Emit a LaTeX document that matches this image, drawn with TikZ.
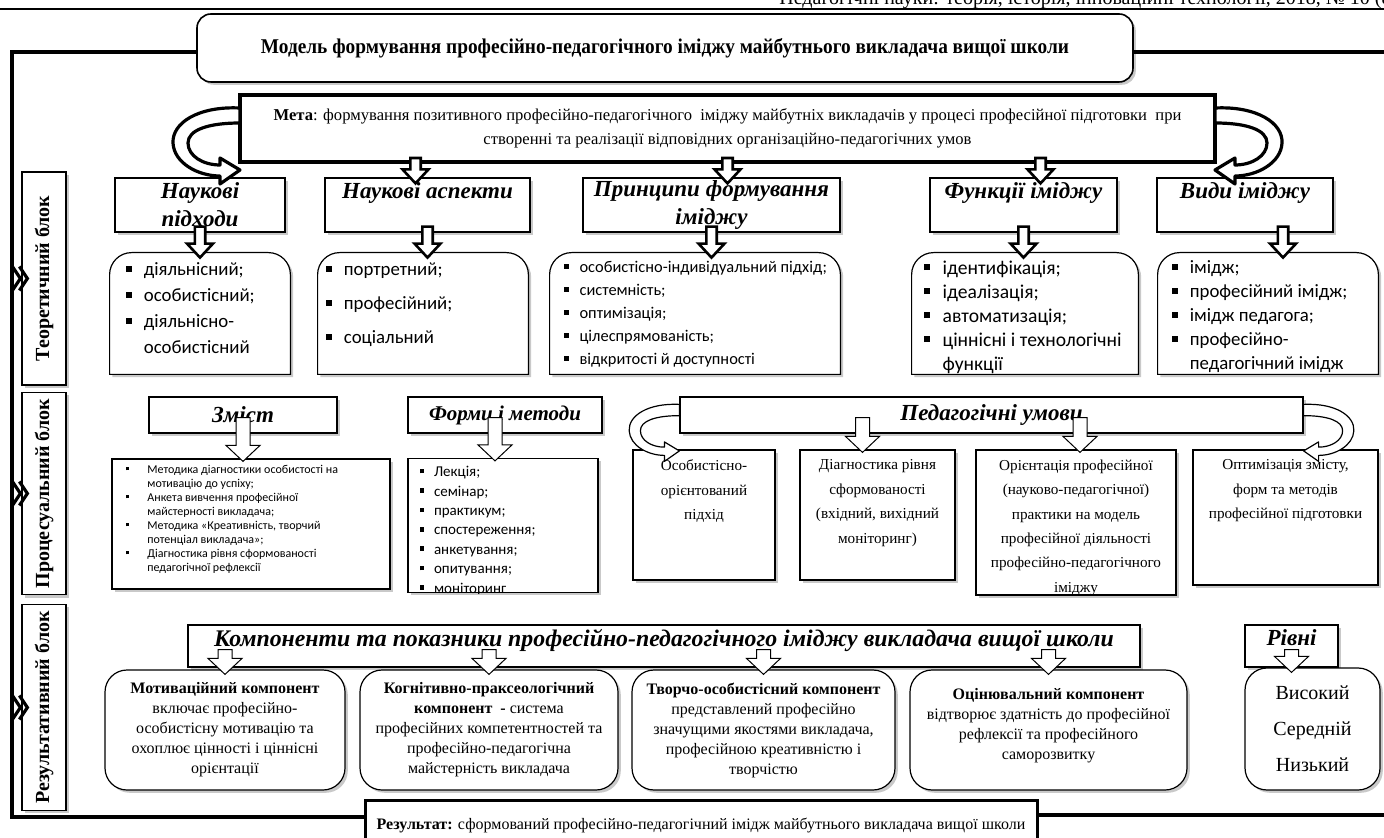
\documentclass[tikz,border=0pt]{standalone}
\usepackage{fontspec}
\setmainfont{Liberation Serif}
\newfontfamily\titlefont[FakeStretch=0.92]{Liberation Serif}
\newfontfamily\calib{Carlito}
\usetikzlibrary{calc,positioning,shadows}

\newcommand{\itm}[1][0.95em]{\makebox[#1][l]{\raisebox{0.22em}{\rule{0.3em}{0.3em}}}}
\newcommand{\roundtop}[1]{%
  \draw[listframe] (#1.south west) -- ([yshift=-11pt]#1.north west)
    arc[start angle=180,end angle=90,radius=11pt] -- ([xshift=-11pt]#1.north east)
    arc[start angle=90,end angle=0,radius=11pt] -- (#1.south east) -- cycle;}

\tikzset{
    shade/.style={drop shadow={shadow xshift=1.4pt,shadow yshift=-1.4pt,opacity=0.3,fill=black!70}},
    titlebox/.style={rectangle,rounded corners=7pt,draw=black,line width=0.8pt,fill=white,shade,font=\titlefont\bfseries\fontsize{10.5}{12}\selectfont},
    metabox/.style={rectangle,draw=black,line width=2pt,fill=white,align=center,font=\fontsize{8.3}{12}\selectfont},
    headbox/.style={rectangle,draw=black,line width=0.6pt,fill=white,shade,inner sep=0pt,align=center,font=\bfseries\itshape\fontsize{11.5}{14}\selectfont},
    onehead/.style={headbox,text depth=14pt},
    sidebox/.style={rectangle,draw=black,line width=0.6pt,fill=white,shade,rotate=90,font=\bfseries\fontsize{10}{12}\selectfont},
    listbox/.style={rectangle,draw=none,inner sep=0pt},
    listframe/.style={draw=black,line width=0.6pt,fill=white,shade},
    listtext/.style={align=left,inner sep=0pt,font=\calib\fontsize{9.4}{12}\selectfont},
    plainbox/.style={rectangle,draw=black,line width=0.6pt,fill=white,shade,inner sep=0pt},
    condtext/.style={align=center,inner sep=0pt,font=\fontsize{7.6}{12.2}\selectfont},
    compbox/.style={rectangle,rounded corners=11pt,draw=black,line width=0.6pt,fill=white,shade,align=center,inner sep=0pt,font=\fontsize{8}{10}\selectfont},
    resbox/.style={rectangle,draw=black,line width=1.5pt,fill=white,font=\fontsize{8}{10}\selectfont},
    frame/.style={draw=black,line width=1.8pt},
    chev/.style={draw=black,line width=1.6pt,line join=miter},
    blockarrow/.style n args={3}{to path={let \p1=(\tikztostart),\p2=(\tikztotarget) in
      (\x1-#1,\y1) -- (\x1+#1,\y1) -- (\x1+#1,\y2+#3) -- (\x1+#2,\y2+#3) -- (\x1,\y2)
      -- (\x1-#2,\y2+#3) -- (\x1-#1,\y2+#3) -- cycle}},
    bigarrow/.style={blockarrow={2.6pt}{6.5pt}{7pt},draw=black,fill=white,line width=1.3pt,line join=miter},
    smallarrow/.style={blockarrow={3.5pt}{8.5pt}{8pt},draw=black,fill=white,line width=0.5pt},
    pics/curl/.style={code={
      \draw[fill=white,line join=round] (0,0) .. controls (-42,-2) and (-68,15) .. (-67,35)
        .. controls (-66,55) and (-42,68) .. (-20,68) -- (-20,76) -- (0,62) -- (-20,50) -- (-20,57)
        .. controls (-37,57) and (-52,48) .. (-52,35) .. controls (-52,22) and (-32,15) .. (0,15) -- cycle;
    }},
}

\begin{document}
\begin{tikzpicture}[x=0.5pt,y=-0.5pt]
\useasboundingbox (0,0) rectangle (1384,838);

% page header
\draw[line width=0.6pt] (0,9) -- (1384,9);
\node[anchor=base east,inner sep=0pt,font=\fontsize{10}{12}\selectfont] (hdr) at (1392,4.5) {Педагогічні науки: теорія, історія, інноваційні технології, 2018, № 10 (8};

% title and goal
\node[titlebox,minimum width=468pt,minimum height=34pt] (title) at (665,48) {Модель формування професійно-педагогічного іміджу майбутнього викладача вищої школи\\[3pt]};
\node[metabox,minimum width=487.5pt,minimum height=33.5pt] (meta) at (727.5,128.5) {\textbf{Мета}: формування позитивного професійно-педагогічного\ \ іміджу майбутніх викладачів у процесі професійної підготовки\ \ при\\створенні та реалізації відповідних організаційно-педагогічних умов};

% side blocks
\node[sidebox,minimum width=106.5pt,minimum height=22pt] (s1) at (44,278.5) {Теоретичний блок};
\node[sidebox,minimum width=96.5pt,minimum height=22pt] (s2) at (44,493.5) {Процесуальний блок};
\node[sidebox,minimum width=102.5pt,minimum height=22pt] (s3) at (44,707.5) {Результативний блок};

% theoretical block
\node[headbox,minimum width=85pt,minimum height=27pt] (h1) at (200,205) {Наукові\\підходи};
\node[onehead,minimum width=102.5pt,minimum height=27pt] (h2) at (427.5,205) {Наукові аспекти};
\node[headbox,minimum width=128.5pt,minimum height=27pt] (h3) at (711.5,205) {Принципи формування\\іміджу};
\node[onehead,minimum width=93.5pt,minimum height=27pt] (h4) at (1023.5,205) {Функції іміджу};
\node[onehead,minimum width=88pt,minimum height=27pt] (h5) at (1245,205) {Види іміджу};

\node[listbox,minimum width=90pt,minimum height=60.5pt] (l1) at (200,313.5) {};
\node[listbox,minimum width=105pt,minimum height=60.5pt] (l2) at (423,313.5) {};
\node[listbox,minimum width=145pt,minimum height=60.5pt] (l3) at (695,313.5) {};
\node[listbox,minimum width=113pt,minimum height=60.5pt] (l4) at (1025,313.5) {};
\node[listbox,minimum width=110pt,minimum height=60.5pt] (l5) at (1268,313.5) {};
\roundtop{l1} \roundtop{l2} \roundtop{l3} \roundtop{l4} \roundtop{l5}
\node[listtext,font=\calib\fontsize{9.4}{13}\selectfont,below right=5pt and 8pt of l1.north west] (t1) {\itm діяльнісний;\\\itm особистісний;\\\itm діяльнісно-\\\hspace{0.95em}особистісний};
\node[listtext,font=\calib\fontsize{9.4}{17}\selectfont,below right=5pt and 4pt of l2.north west] (t2) {\itm портретний;\\\itm професійний;\\\itm соціальний};
\node[listtext,font=\calib\fontsize{8.2}{11.5}\selectfont,below right=4pt and 7pt of l3.north west] (t3) {\itm особистісно-індивідуальний підхід;\\\itm системність;\\\itm оптимізація;\\\itm цілеспрямованість;\\\itm відкритості й доступності};
\node[listtext,font=\calib\fontsize{9.8}{12}\selectfont,below right=4pt and 6pt of l4.north west] (t4) {\itm ідентифікація;\\\itm ідеалізація;\\\itm автоматизація;\\\itm ціннісні і технологічні\\\hspace{0.95em}функції};
\node[listtext,below right=4pt and 7pt of l5.north west] (t5) {\itm імідж;\\\itm професійний імідж;\\\itm імідж педагога;\\\itm професійно-\\\hspace{0.95em}педагогічний імідж};

% procedural block
\node[headbox,minimum width=94pt,minimum height=18pt] (zh) at (243,415) {Зміст};
\node[headbox,minimum width=97pt,minimum height=18pt,font=\bfseries\itshape\fontsize{10.5}{12}\selectfont] (fh) at (505,415) {Форми і методи};
\node[headbox,minimum width=311.5pt,minimum height=18pt] (pu) at (991.5,415) {Педагогічні умови};

\node[plainbox,minimum width=139pt,minimum height=65pt] (zc) at (251,524) {};
\node[listtext,font=\calib\fontsize{6}{7}\selectfont,below right=3pt and 7pt of zc.north west] (tz) {\itm[1.8em]Методика діагностики особистості на\\\hspace{1.8em}мотивацію до успіху;\\\itm[1.8em]Анкета вивчення професійної\\\hspace{1.8em}майстерності викладача;\\\itm[1.8em]Методика «Креативність, творчий\\\hspace{1.8em}потенціал викладача»;\\\itm[1.8em]Діагностика рівня сформованості\\\hspace{1.8em}педагогічної рефлексії};
\node[plainbox,minimum width=95pt,minimum height=67pt] (fc) at (503,525.5) {};
\begin{scope}
  \clip (fc.south west) rectangle (fc.north east);
  \node[listtext,font=\calib\fontsize{7.5}{9.7}\selectfont,below right=4pt and 6pt of fc.north west] (tf) {\itm Лекція;\\\itm семінар;\\\itm практикум;\\\itm спостереження;\\\itm анкетування;\\\itm опитування;\\\itm моніторинг};
\end{scope}

\node[plainbox,minimum width=71pt,minimum height=65pt] (pa) at (704,515) {};
\node[plainbox,minimum width=77.5pt,minimum height=65pt] (pb) at (877.5,515) {};
\node[plainbox,minimum width=100pt,minimum height=72.5pt] (pc) at (1076,522.5) {};
\node[plainbox,minimum width=92.5pt,minimum height=67.5pt] (pd) at (1285.5,517.5) {};
\node[condtext,below=5pt of pa.north] (ta) {Особистісно-\\орієнтований\\підхід};
\node[condtext,below=5pt of pb.north] (tb) {Діагностика рівня\\сформованості\\(вхідний, вихідний\\моніторинг)};
\node[condtext,below=5pt of pc.north] (tc) {Орієнтація професійної\\(науково-педагогічної)\\практики на модель\\професійної діяльності\\професійно-педагогічного\\іміджу};
\node[condtext,below=5pt of pd.north] (td) {Оптимізація змісту,\\форм та методів\\професійної підготовки};

% resulting block
\node[headbox,minimum width=476pt,minimum height=21pt,text depth=8pt,font=\bfseries\itshape\fontsize{11.9}{14}\selectfont] (kh) at (664,646) {Компоненти та показники професійно-педагогічного іміджу викладача вищої школи};
\node[headbox,minimum width=46.5pt,minimum height=21pt,text depth=8pt] (rh) at (1291.5,646) {Рівні};

\node[compbox,minimum width=120pt,minimum height=60pt] (ka) at (225,730) {\textbf{Мотиваційний компонент}\\включає професійно-\\особистісну мотивацію та\\охоплює цінності і ціннісні\\орієнтації};
\node[compbox,minimum width=129pt,minimum height=60pt] (kb) at (489,730) {\textbf{Когнітивно-праксеологічний}\\\textbf{компонент\ \ -} система\\професійних компетентностей та\\професійно-педагогічна\\майстерність викладача};
\node[compbox,minimum width=131.5pt,minimum height=60pt] (kc) at (763.5,730) {\textbf{Творчо-особистісний компонент}\\представлений професійно\\значущими якостями викладача,\\професійною креативністю і\\творчістю};
\node[compbox,minimum width=138.5pt,minimum height=60pt] (kd) at (1048.5,730) {\textbf{Оцінювальний компонент}\\відтворює здатність до професійної\\рефлексії та професійного\\саморозвитку\\[-4pt]\mbox{}};
\node[compbox,minimum width=67.5pt,minimum height=61pt,font=\fontsize{10}{18}\selectfont] (rl) at (1312.5,729) {Високий\\Середній\\Низький};

\node[resbox,minimum width=336pt,minimum height=25pt] (result) at (701,825) {\textbf{Результат:} сформований професійно-педагогічний імідж майбутнього викладача вищої школи};

% frame lines
\coordinate (fl) at (12,817);
\coordinate (fr1) at (1384,52);
\coordinate (fr2) at (1384,815);
\draw[frame] (title.west) ++(0,4) -| (fl) -- (fl -| result.west);
\draw[frame] (title.east |- fr1) -- (fr1);
\draw[frame] (result.east |- fr2) -- (fr2);
\foreach \s in {s1,s2,s3}{
  \draw[chev] ($(\s.north)+(-9,-12)$) -- ++(8,12) -- ++(-8,12);
  \draw[chev] ($(\s.north)+(-2,-12)$) -- ++(8,12) -- ++(-8,12);
}

% arrows
\draw[bigarrow] ($(meta.south -| h2.north)+(-12,-6)$) to ($(h2.north)+(-12,6)$);
\draw[bigarrow] ($(meta.south -| h3.north)+(16,-6)$) to ($(h3.north)+(16,6)$);
\draw[bigarrow] ($(meta.south -| h4.north)+(17,-6)$) to ($(h4.north)+(17,6)$);
\foreach \h/\l in {h1/l1,h2/l2,h3/l3,h4/l4}
  \draw[bigarrow] ($(\h.south)+(0,-6)$) to ($(\h.south |- \l.north)+(0,5)$);
\draw[bigarrow] ($(h5.south)+(38,-6)$) to ($(h5.south |- l5.north)+(38,5)$);

\draw[smallarrow] ($(zh.south)+(0,-16)$) to ($(zh.south |- zc.north)+(0,3)$);
\draw[smallarrow] ($(fh.south)+(-10,-16)$) to ($(fh.south |- fc.north)+(-10,3)$);
\draw[smallarrow] ($(pu.south -| pb.north)+(-15,-16)$) to ($(pb.north)+(-15,3)$);
\draw[smallarrow] ($(pu.south -| pc.north)+(4,-16)$) to ($(pc.north)+(4,3)$);
\foreach \k in {ka,kb,kc,kd}
  \draw[smallarrow] ($(kh.south -| \k.north)+(0,-18)$) to ($(\k.north)+(0,5)$);
\draw[smallarrow] ($(rh.south)+(0,-18)$) to ($(rh.south |- rl.north)+(0,5)$);

% curled arrows
\pic[line width=1.6pt] at ($(meta.north west)+(2,15)$) {curl};
\pic[line width=1.6pt,xscale=-1] at ($(meta.north east)+(-2,15)$) {curl};
\pic[line width=0.6pt,scale=0.75] at ($(pu.north west)+(0,8)$) {curl};
\pic[line width=0.6pt,scale=0.75,xscale=-1] at ($(pu.north east)+(0,8)$) {curl};
\end{tikzpicture}
\end{document}
